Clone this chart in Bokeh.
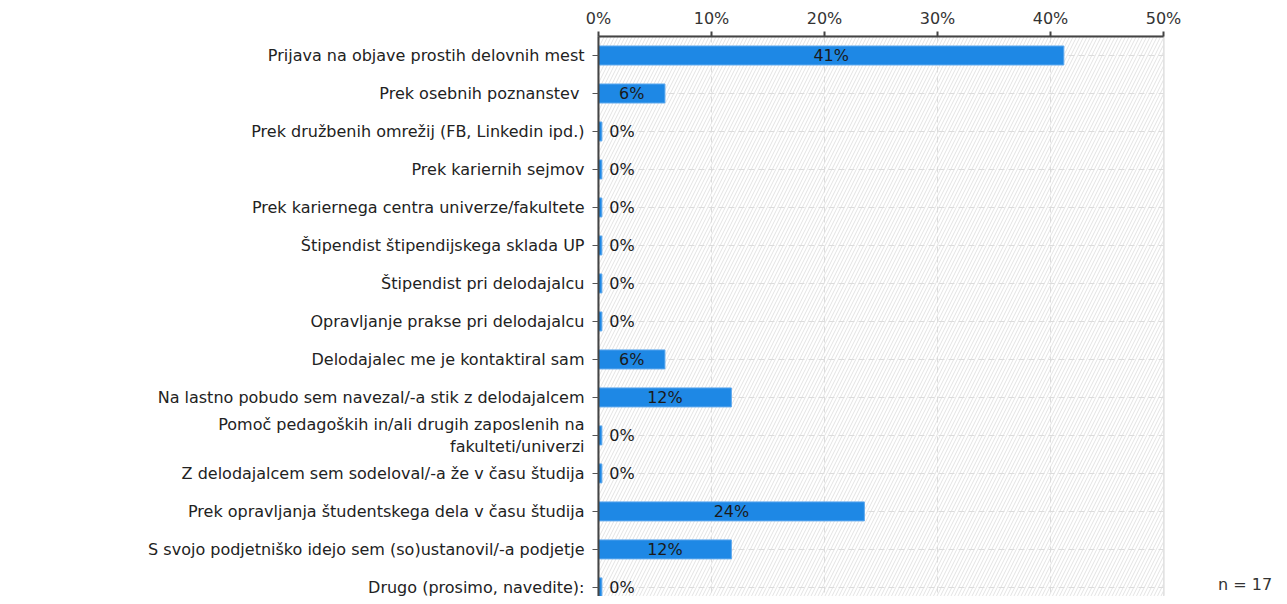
import numpy as np
from bokeh.plotting import figure
from bokeh.layouts import row
from bokeh.models import Range1d, FixedTicker, ColumnDataSource, Div
from bokeh.core.properties import value
from bokeh.embed import file_html
from bokeh.resources import INLINE

categories = [
    "Prijava na objave prostih delovnih mest",
    "Prek osebnih poznanstev ",
    "Prek družbenih omrežij (FB, Linkedin ipd.)",
    "Prek kariernih sejmov",
    "Prek kariernega centra univerze/fakultete",
    "Štipendist štipendijskega sklada UP",
    "Štipendist pri delodajalcu",
    "Opravljanje prakse pri delodajalcu",
    "Delodajalec me je kontaktiral sam",
    "Na lastno pobudo sem navezal/-a stik z delodajalcem",
    "Pomoč pedagoških in/ali drugih zaposlenih na\nfakulteti/univerzi",
    "Z delodajalcem sem sodeloval/-a že v času študija",
    "Prek opravljanja študentskega dela v času študija",
    "S svojo podjetniško idejo sem (so)ustanovil/-a podjetje",
    "Drugo (prosimo, navedite):",
]
values = [41.18, 5.88, 0, 0, 0, 0, 0, 0, 5.88, 11.76, 0, 0, 23.53, 11.76, 0]
x_ticks = [0, 10, 20, 30, 40, 50]
x_tick_labels = ["0%", "10%", "20%", "30%", "40%", "50%"]
n_label = "n = 17"

FONT = "DejaVu Sans"
idx = list(range(len(categories)))
vals = np.array(values, dtype=float)

p = figure(width=1190, height=596, output_backend="svg", toolbar_location=None,
           x_axis_location="above",
           x_range=Range1d(0, 50), y_range=Range1d(14.24, -0.5),
           min_border_left=598, min_border_right=27, min_border_top=36,
           min_border_bottom=0)

# hatched background
p.quad(left=[0], right=[50], bottom=[15], top=[-1], fill_color="white",
       line_color=None, hatch_pattern="/", hatch_color="#e3e3e3",
       hatch_scale=7, hatch_weight=1, level="image")

# bars
bar_right = np.maximum(vals, 0.3)
p.hbar(y=idx, left=0, right=bar_right, height=0.5, fill_color="#1e88e5",
       line_color="#5fa9ee", line_width=1)

# labels
txt = [f"{round(v)}%" for v in vals]
nz = vals > 0
src_nz = ColumnDataSource(dict(x=vals[nz] / 2, y=np.array(idx)[nz],
                               t=[t for t, k in zip(txt, nz) if k]))
src_z = ColumnDataSource(dict(x=np.full((~nz).sum(), 0.95), y=np.array(idx)[~nz],
                              t=[t for t, k in zip(txt, nz) if not k]))
p.text(x="x", y="y", text="t", source=src_nz, text_align="center",
       text_baseline="middle", text_font=value(FONT), text_font_size="16px",
       text_color="#1a1a1a")
p.text(x="x", y="y", text="t", source=src_z, text_align="left",
       text_baseline="middle", text_font=value(FONT), text_font_size="16px",
       text_color="#1a1a1a")

# axes
xa = p.xaxis[0]
xa.ticker = FixedTicker(ticks=x_ticks)
xa.major_label_overrides = {t: l for t, l in zip(x_ticks, x_tick_labels)}
xa.major_label_text_font = FONT
xa.major_label_text_font_size = "16px"
xa.major_label_text_color = "#333333"
xa.axis_line_color = "#444444"
xa.axis_line_width = 2
xa.major_tick_line_color = "#444444"
xa.major_tick_line_width = 2
xa.major_tick_out = 5
xa.major_tick_in = 0
xa.minor_tick_line_color = None
xa.major_label_standoff = 4

ya = p.yaxis[0]
ya.ticker = FixedTicker(ticks=idx)
ya.major_label_overrides = {i: c for i, c in zip(idx, categories)}
ya.major_label_text_font = FONT
ya.major_label_text_font_size = "16px"
ya.major_label_text_color = "#222222"
ya.axis_line_color = "#444444"
ya.axis_line_width = 2
ya.major_tick_line_color = "#555555"
ya.major_tick_out = 6
ya.major_tick_in = 0
ya.minor_tick_line_color = None
ya.major_label_standoff = 8

# grid
p.xgrid.ticker = FixedTicker(ticks=x_ticks)
p.xgrid.grid_line_color = "#dcdcdc"
p.xgrid.grid_line_dash = "6 4"
p.ygrid.ticker = FixedTicker(ticks=idx)
p.ygrid.grid_line_color = "#dcdcdc"
p.ygrid.grid_line_dash = "6 4"

p.outline_line_color = "#d8d8d8"
p.outline_line_width = 2
p.background_fill_color = "white"
p.border_fill_color = "white"

note = Div(text=n_label, width=66, height=20, margin=(574, 0, 0, 28),
           styles={"font-family": FONT, "font-size": "16px", "color": "#333333",
                   "white-space": "nowrap"})

layout = row(p, note, spacing=0)
open("out.html", "w").write(file_html(layout, INLINE))
